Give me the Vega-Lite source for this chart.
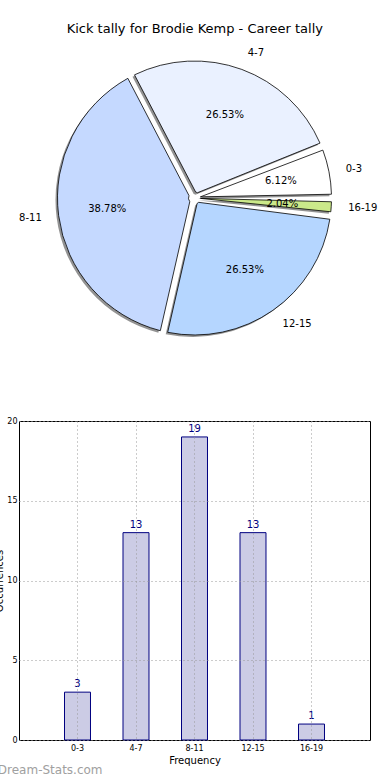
{
  "$schema": "https://vega.github.io/schema/vega-lite/v6.json",
  "autosize": {"type": "pad"},
  "padding": {"left": -6, "top": 23, "right": 0, "bottom": 0},
  "background": "white",
  "title": {"text": "Kick tally for Brodie Kemp - Career tally", "font": "DejaVu Sans", "fontSize": 13, "fontWeight": "normal", "anchor": "middle", "offset": 12, "dx": 9, "color": "#000"},
  "datasets": {
    "kicks": [
      {"cat": "0-3", "lo": 0, "count": 3, "pct": "6.12%"},
      {"cat": "4-7", "lo": 4, "count": 13, "pct": "26.53%"},
      {"cat": "8-11", "lo": 8, "count": 19, "pct": "38.78%"},
      {"cat": "12-15", "lo": 12, "count": 13, "pct": "26.53%"},
      {"cat": "16-19", "lo": 16, "count": 1, "pct": "2.04%"}
    ]
  },
  "bounds": "flush",
  "spacing": 75,
  "config": {"view": {"stroke": null}, "font": "DejaVu Sans"},
  "vconcat": [
    {
      "width": 351,
      "height": 296,
      "data": {"name": "kicks"},
      "encoding": {
        "theta": {"field": "count", "type": "quantitative", "stack": true, "scale": {"range": [1.5708, -4.7124]}},
        "order": {"field": "lo", "type": "quantitative"}
      },
      "layer": [
        {"mark": {"type": "arc", "outerRadius": 137, "innerRadius": 6, "padAngle": 0.055, "xOffset": -2, "yOffset": 2, "fill": "#808080", "opacity": 0.85}},
        {"mark": {"type": "arc", "outerRadius": 137, "innerRadius": 6, "padAngle": 0.055, "stroke": "#000", "strokeWidth": 0.8},
         "encoding": {"color": {"field": "cat", "type": "nominal", "legend": null,
           "scale": {"domain": ["0-3", "4-7", "8-11", "12-15", "16-19"], "range": ["#ffffff", "#eaf1ff", "#c5d9ff", "#b5d6ff", "#cbe98a"]}}}},
        {"mark": {"type": "text", "radius": 88, "fontSize": 10, "color": "#000", "align": "center", "baseline": "middle"},
         "encoding": {"text": {"field": "pct"}}},
        {"mark": {"type": "text", "radius": 154, "fontSize": 10, "color": "#000", "align": {"expr": "datum.cat == '8-11' ? 'right' : 'left'"}, "baseline": "middle"},
         "encoding": {"text": {"field": "cat"}}}
      ]
    },
    {
      "width": 351,
      "height": 319,
      "view": {"stroke": "#000", "strokeWidth": 1},
      "title": {"text": "Dream-Stats.com", "orient": "bottom", "anchor": "start", "dx": 3, "color": "#a0a0a0", "fontSize": 12, "fontWeight": "normal", "offset": 0},
      "data": {"name": "kicks"},
      "encoding": {
        "x": {"field": "cat", "type": "nominal", "sort": ["0-3", "4-7", "8-11", "12-15", "16-19"],
          "scale": {"paddingInner": 0.556, "paddingOuter": 0.778},
          "axis": {"title": "Frequency", "labelAngle": 0, "labelFontSize": 8, "titleFontSize": 10, "titleFontWeight": "normal", "titlePadding": 3, "labelPadding": 4,
            "grid": true, "gridDash": [1, 3], "gridColor": "#999", "bandPosition": 0.5, "ticks": false, "domain": false, "labelColor": "#000", "titleColor": "#000", "zindex": 1}},
        "y": {"field": "count", "type": "quantitative", "scale": {"domain": [0, 20]},
          "axis": {"title": "Occurrences", "values": [0, 5, 10, 15, 20], "labelFontSize": 8, "titleFontSize": 10, "titleFontWeight": "normal", "titlePadding": 2, "labelPadding": 2,
            "grid": true, "gridDash": [1, 3], "gridColor": "#999", "ticks": false, "domain": false, "labelColor": "#000", "titleColor": "#000", "zindex": 1}}
      },
      "layer": [
        {"mark": {"type": "bar", "fill": "#ccccE5", "stroke": "#000080", "strokeWidth": 1}},
        {"mark": {"type": "text", "dy": -3, "baseline": "bottom", "fontSize": 10, "color": "#000080"},
         "encoding": {"text": {"field": "count", "type": "quantitative"}}}
      ]
    }
  ]
}
